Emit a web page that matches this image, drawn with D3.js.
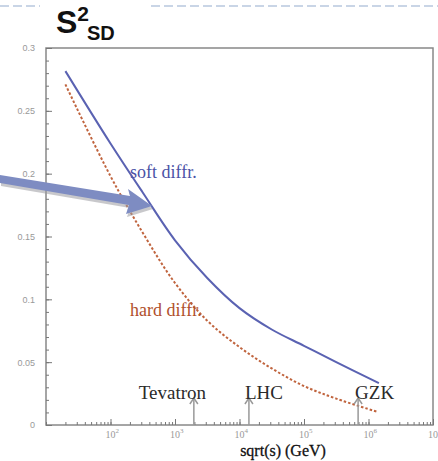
<html lang="en">

<head>
  <meta charset="utf-8">
  <title>S2 SD vs sqrt(s)</title>
  <script type="text/javascript" src="https://d3js.org/d3.v7.min.js"></script>
  <style>
    body { margin: 0; background: #fff; }
  </style>
</head>

<body>
  <svg width="438" height="461"></svg>
  <script>
    // sqrt(s) in GeV, gap survival probability
    const softE = [20, 100, 316, 1000, 3160, 10000, 31600, 100000, 316000, 1450000];
    const softS2 = [0.2816, 0.224, 0.185, 0.147, 0.117, 0.093, 0.076, 0.063, 0.050, 0.0334];
    const hardE = [20, 100, 316, 1000, 3160, 10000, 31600, 100000, 316000, 1410000];
    const hardS2 = [0.271, 0.198, 0.153, 0.113, 0.083, 0.062, 0.045, 0.031, 0.021, 0.0103];
    const machines = ["Tevatron", "LHC", "GZK"];
    const machineE = [1960, 14000, 690000];
    const xTickExp = [2, 3, 4, 5, 6, 7];
    const yTicks = [0, 0.05, 0.1, 0.15, 0.2, 0.25, 0.3];

    const svg = d3.select("svg");
    const x = d3.scaleLog().domain([10, 1e7]).range([46, 433]);
    const y = d3.scaleLinear().domain([0, 0.3]).range([425, 48]);
    const serif = "Liberation Serif, Times New Roman, serif";

    // dashed slide rule at top
    svg.append("line")
      .attr("x1", 0).attr("x2", 40).attr("y1", 6).attr("y2", 6)
      .attr("stroke", "#c9d5e6").attr("stroke-width", 2).attr("stroke-dasharray", "9,4");
    svg.append("line")
      .attr("x1", 151).attr("x2", 438).attr("y1", 6).attr("y2", 6)
      .attr("stroke", "#c9d5e6").attr("stroke-width", 2).attr("stroke-dasharray", "9,4");

    // title S^2_SD
    const title = svg.append("text")
      .attr("x", 56).attr("y", 33)
      .attr("font-family", "Liberation Sans, Arial, sans-serif")
      .attr("font-weight", "bold").attr("font-size", 32).attr("fill", "#111");
    title.append("tspan").text("S");
    title.append("tspan").attr("font-size", 21).attr("dy", -12).text("2");
    title.append("tspan").attr("font-size", 20).attr("dx", -2).attr("dy", 19).text("SD");

    // frame
    svg.append("rect")
      .attr("x", x.range()[0]).attr("y", y.range()[1])
      .attr("width", x.range()[1] - x.range()[0]).attr("height", y.range()[0] - y.range()[1])
      .attr("fill", "none").attr("stroke", "#888").attr("stroke-width", 1.5);

    // x axis ticks (pointing inward)
    const xMinor = svg.append("g").attr("transform", `translate(0,${y.range()[0]})`)
      .call(d3.axisBottom(x).tickValues(x.ticks()).tickSize(-3).tickFormat(() => ""));
    const xMajor = svg.append("g").attr("transform", `translate(0,${y.range()[0]})`)
      .call(d3.axisBottom(x).tickValues(xTickExp.map(e => Math.pow(10, e))).tickSize(-6).tickFormat(() => ""));
    [xMinor, xMajor].forEach(g => {
      g.select(".domain").remove();
      g.selectAll("line").attr("stroke", "#777");
    });
    const xLab = svg.append("g")
      .attr("font-family", serif)
      .attr("font-size", 10).attr("fill", "#999");
    xTickExp.forEach(e => {
      const t = xLab.append("text").attr("x", x(Math.pow(10, e)) - 5).attr("y", 438);
      t.append("tspan").text("10");
      t.append("tspan").attr("font-size", 7).attr("dy", -5).text(e);
    });

    // y axis ticks (pointing inward)
    const yMinor = svg.append("g").attr("transform", `translate(${x.range()[0]},0)`)
      .call(d3.axisLeft(y).tickValues(d3.range(0, 0.3001, 0.01)).tickSize(-3).tickFormat(() => ""));
    const yMajor = svg.append("g").attr("transform", `translate(${x.range()[0]},0)`)
      .call(d3.axisLeft(y).tickValues(yTicks).tickSize(-6).tickPadding(11).tickFormat(d3.format("~g")));
    [yMinor, yMajor].forEach(g => {
      g.select(".domain").remove();
      g.selectAll("line").attr("stroke", "#777");
    });
    yMajor.selectAll("text")
      .attr("font-family", "Liberation Sans, Arial, sans-serif")
      .attr("font-size", 9).attr("fill", "#999");

    // x axis title
    svg.append("text")
      .attr("x", 283).attr("y", 456).attr("text-anchor", "middle")
      .attr("font-family", serif)
      .attr("font-size", 16).attr("fill", "#111")
      .attr("stroke", "#111").attr("stroke-width", 0.3)
      .text("sqrt(s)  (GeV)");

    // curves
    const line = d3.line().x(d => x(d[0])).y(d => y(d[1])).curve(d3.curveCatmullRom);
    svg.append("path")
      .datum(hardE.map((e, i) => [e, hardS2[i]]))
      .attr("d", line).attr("fill", "none")
      .attr("stroke", "#c0643e").attr("stroke-width", 2).attr("stroke-dasharray", "2.5,2");
    svg.append("path")
      .datum(softE.map((e, i) => [e, softS2[i]]))
      .attr("d", line).attr("fill", "none")
      .attr("stroke", "#5a62b2").attr("stroke-width", 2);

    // machine markers
    const labelDx = [-55, -4, -3];
    machines.forEach((m, i) => {
      const xm = x(machineE[i]);
      svg.append("line")
        .attr("x1", xm).attr("x2", xm).attr("y1", y.range()[0]).attr("y2", 398)
        .attr("stroke", "#999").attr("stroke-width", 1.5);
      svg.append("path")
        .attr("d", `M${xm - 4},${404} L${xm},${398} L${xm + 4},${404}`)
        .attr("fill", "none").attr("stroke", "#999").attr("stroke-width", 1.5);
      svg.append("text")
        .attr("x", xm + labelDx[i]).attr("y", 399)
        .attr("font-family", serif).attr("font-size", 19).attr("fill", "#2a2a2a")
        .text(m);
    });

    // curve labels
    svg.append("text").attr("x", 130).attr("y", 178)
      .attr("font-family", serif).attr("font-size", 18).attr("fill", "#4a52a6")
      .text("soft diffr.");
    svg.append("text").attr("x", 130).attr("y", 316)
      .attr("font-family", serif).attr("font-size", 18).attr("fill", "#b0502c")
      .text("hard diffr.");

    // big pointer arrow
    const arrowPath = "M0,175 L130,196 L128,189 L152,206 L126,214 L129,205 L0,183 Z";
    svg.append("path").attr("d", arrowPath)
      .attr("fill", "#9a9aa0").attr("opacity", 0.55)
      .attr("transform", "translate(1,3)");
    svg.append("path").attr("d", arrowPath)
      .attr("fill", "#7e8cc2");
  </script>
</body>

</html>
